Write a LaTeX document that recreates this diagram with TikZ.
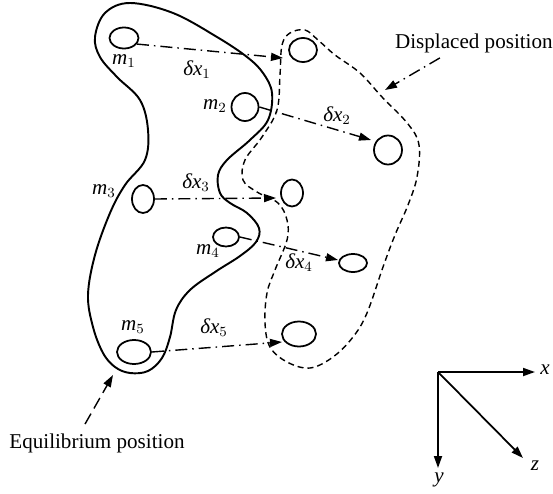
\documentclass[tikz,border=0pt]{standalone}
\usepackage{fontspec}
\setmainfont{Liberation Serif}
\usepackage{tikz}
\usetikzlibrary{shapes.geometric, arrows.meta, calc}

\newcommand{\mlab}[2]{\textit{#1}$_{#2}$}

\begin{document}
\begin{tikzpicture}[x=0.02cm, y=-0.02cm, font=\fontsize{12}{14}\selectfont,
    mass/.style 2 args={draw, line width=1pt, ellipse, inner sep=0pt, minimum width=#1*0.02cm, minimum height=#2*0.02cm},
    lbl/.style={inner sep=0pt},
    dxline/.style={line width=0.8pt, dash pattern=on 2.4mm off 1mm on 0.3mm off 1mm, -{Triangle[length=2.4mm, width=1.6mm]}},
    axis/.style={line width=1pt, -{Triangle[length=2.4mm, width=1.6mm]}}]
    \useasboundingbox (0,0) rectangle (553,493);

    % Equilibrium boundary
    \draw[line width=1.1pt] plot[smooth cycle, tension=0.6] coordinates {
        (130,3) (173,13) (217,37) (247,57) (263,73) (272,93) (268,120) (250,140) (227,160) (218,175)
        (220,193) (230,203) (247,213) (259,228) (256,242) (240,256) (215,272) (190,290) (176,310)
        (170,337) (162,358) (148,371) (130,373) (115,367) (103,353) (93,327) (88,295) (95,255)
        (110,213) (125,185) (145,160) (148,130) (140,100) (117,77) (100,57) (95,37) (105,13)};

    % Displaced boundary
    \draw[line width=0.8pt, dash pattern=on 1.2mm off 0.8mm] plot[smooth cycle, tension=0.6] coordinates {
        (290,33) (305,30) (318,40) (335,55) (360,73) (382,97) (408,124) (419,145) (417,177) (408,205)
        (395,235) (383,267) (367,313) (353,337) (333,357) (310,368) (287,362) (270,347) (265,323)
        (267,293) (275,270) (287,240) (287,220) (278,203) (257,192) (243,180) (245,160) (262,137)
        (277,110) (280,75) (282,45)};

    % Masses, equilibrium
    \node[mass={29}{21}] (m1) at (124,38) {};
    \node[mass={27}{28}] (m2) at (245,107) {};
    \node[mass={22}{28}] (m3) at (143,199) {};
    \node[mass={26}{19}] (m4) at (226,237) {};
    \node[mass={34}{24}] (m5) at (134,352) {};

    % Masses, displaced
    \node[mass={28}{24}] (m1d) at (303,50) {};
    \node[mass={28}{29}] (m2d) at (388,150) {};
    \node[mass={22}{27}] (m3d) at (292,193) {};
    \node[mass={28}{18}] (m4d) at (353,263) {};
    \node[mass={34}{25}] (m5d) at (299,334) {};

    \node[lbl] (lm1) at (124,61) {\mlab{m}{1}};
    \node[lbl] (lm2) at (215,106) {\mlab{m}{2}};
    \node[lbl] (lm3) at (104,191) {\mlab{m}{3}};
    \node[lbl] (lm4) at (208,251) {\mlab{m}{4}};
    \node[lbl] (lm5) at (133,327) {\mlab{m}{5}};
    \node[lbl] (ldx1) at (197,70) {\mlab{δx}{1}};
    \node[lbl] (ldx2) at (337,116) {\mlab{δx}{2}};
    \node[lbl] (ldx3) at (196,183) {\mlab{δx}{3}};
    \node[lbl] (ldx4) at (299,263) {\mlab{δx}{4}};
    \node[lbl] (ldx5) at (214,328) {\mlab{δx}{5}};

    % Displacements
    \coordinate (t1) at (283,58);
    \coordinate (t2) at (371,140);
    \coordinate (t3) at (276,198);
    \coordinate (t4) at (338,260);
    \coordinate (t5) at (282,342);
    \draw[dxline] (m1.-25) -- (t1);
    \draw[dxline] (m2.east) -- (t2);
    \draw[dxline] (m3.east) -- (t3);
    \draw[dxline] (m4.east) -- (t4);
    \draw[dxline] (m5.east) -- (t5);

    % Captions
    \node[lbl, anchor=east] (dlab) at (553,43) {Displaced position};
    \node[lbl] (elab) at (97,443) {Equilibrium position};
    \coordinate (dtip) at (385,90);
    \coordinate (etip) at (113,375);
    \draw[dxline] ($(dlab.south)+(-34,5)$) -- (dtip);
    \draw[line width=0.8pt, dash pattern=on 2.4mm off 1.2mm, -{Triangle[length=2.4mm, width=1.6mm]}] ($(elab.north)+(-12,-9)$) -- (etip);

    % Axes
    \coordinate (O) at (438,372);
    \node[lbl] (ax) at (545,370) {\textit{x}};
    \node[lbl] (ay) at (439,480) {\textit{y}};
    \node[lbl] (az) at (535,466) {\textit{z}};
    \draw[axis] (O) -- (535,372);
    \draw[axis] (O) -- (438,468);
    \draw[axis] (O) -- (523,458);
\end{tikzpicture}
\end{document}
